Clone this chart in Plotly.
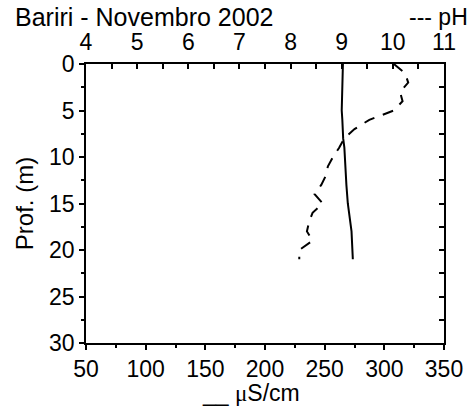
import plotly.graph_objects as go

# Conductivity (µS/cm) profile
cond_depth = [0, 2, 3, 4, 5, 6, 8, 9, 11, 13, 15, 16, 18, 21]
cond_vals = [265.3, 264.8, 264.3, 264.0, 264.3, 264.8, 265.5, 266.5, 267.2, 268.2, 269.4, 270.3, 272.5, 273.6]

# pH profile
ph_depth = [0, 1, 2, 3, 4, 5, 6, 7, 8, 9, 10, 11, 12, 13, 14, 15, 16, 17, 18, 19, 20, 21]
ph_vals = [10.02, 10.24, 10.30, 10.14, 10.19, 10.02, 9.54, 9.25, 9.05, 8.95, 8.83, 8.73,
           8.69, 8.60, 8.47, 8.63, 8.43, 8.36, 8.32, 8.43, 8.17, 8.17]

cond_ticks = [50, 100, 150, 200, 250, 300, 350]
ph_ticks = [4, 5, 6, 7, 8, 9, 10, 11]
depth_ticks = [0, 5, 10, 15, 20, 25, 30]

FONT = "Liberation Sans"
FS = 23

fig = go.Figure()
fig.add_trace(go.Scatter(x=cond_vals, y=cond_depth, mode="lines",
                         line=dict(color="black", width=2), xaxis="x", yaxis="y",
                         showlegend=False))
fig.add_trace(go.Scatter(x=ph_vals, y=ph_depth, mode="lines",
                         line=dict(color="black", width=2, dash="11px,9px"),
                         xaxis="x2", yaxis="y", showlegend=False))
# invisible trace for right mirror axis
fig.add_trace(go.Scatter(x=[cond_ticks[0]], y=[depth_ticks[0]], mode="markers",
                         marker=dict(opacity=0), xaxis="x", yaxis="y2",
                         showlegend=False, hoverinfo="skip"))

common = dict(showgrid=False, zeroline=False, showline=True, linecolor="black",
              linewidth=1.5, tickcolor="black", tickwidth=1.5,
              tickfont=dict(family=FONT, size=FS, color="black"))

fig.update_layout(
    width=475, height=410,
    margin=dict(l=86, r=28, t=64, b=67),
    paper_bgcolor="white", plot_bgcolor="white",
    font=dict(family=FONT, size=FS, color="black"),
    xaxis=dict(range=[50, 350], tickvals=cond_ticks, ticks="outside", ticklen=5,
               minor=dict(dtick=25, ticks="outside", ticklen=3, tickcolor="black", tickwidth=1.5),
               side="bottom", anchor="y", **common),
    xaxis2=dict(range=[4, 11], tickvals=ph_ticks, ticks="inside", ticklen=5,
                minor=dict(dtick=0.5, ticks="inside", ticklen=5, tickcolor="black", tickwidth=1.5),
                side="top", overlaying="x", anchor="y", ticklabelstandoff=3, **common),
    yaxis=dict(range=[30, 0], tickvals=depth_ticks, ticks="outside", ticklen=5,
               minor=dict(dtick=2.5, ticks="outside", ticklen=3, tickcolor="black", tickwidth=1.5),
               title=dict(text="Prof. (m)", font=dict(family=FONT, size=24), standoff=9),
               anchor="x", **common),
    yaxis2=dict(range=[30, 0], tickvals=depth_ticks, ticks="inside", ticklen=5,
                minor=dict(dtick=2.5, ticks="inside", ticklen=5, tickcolor="black", tickwidth=1.5),
                showticklabels=False, side="right", overlaying="y", anchor="x", **common),
)

fig.add_annotation(text="Bariri - Novembro 2002", xref="paper", yref="paper",
                   x=-0.202, y=1.0, xanchor="left", yanchor="middle", yshift=47,
                   showarrow=False, borderpad=0,
                   font=dict(family=FONT, size=25, color="black"))
fig.add_annotation(text="--- pH", xref="paper", yref="paper",
                   x=1.0, y=1.0, xanchor="right", yanchor="middle", yshift=47, xshift=25,
                   showarrow=False, borderpad=0,
                   font=dict(family=FONT, size=FS, color="black"))
fig.add_annotation(text="__ <span style='font-family:Liberation Serif'>μ</span>S/cm",
                   xref="paper", yref="paper",
                   x=0.46, y=0.0, xanchor="center", yanchor="middle", yshift=-50,
                   showarrow=False, font=dict(family=FONT, size=FS, color="black"))

fig.write_html("out.html")
